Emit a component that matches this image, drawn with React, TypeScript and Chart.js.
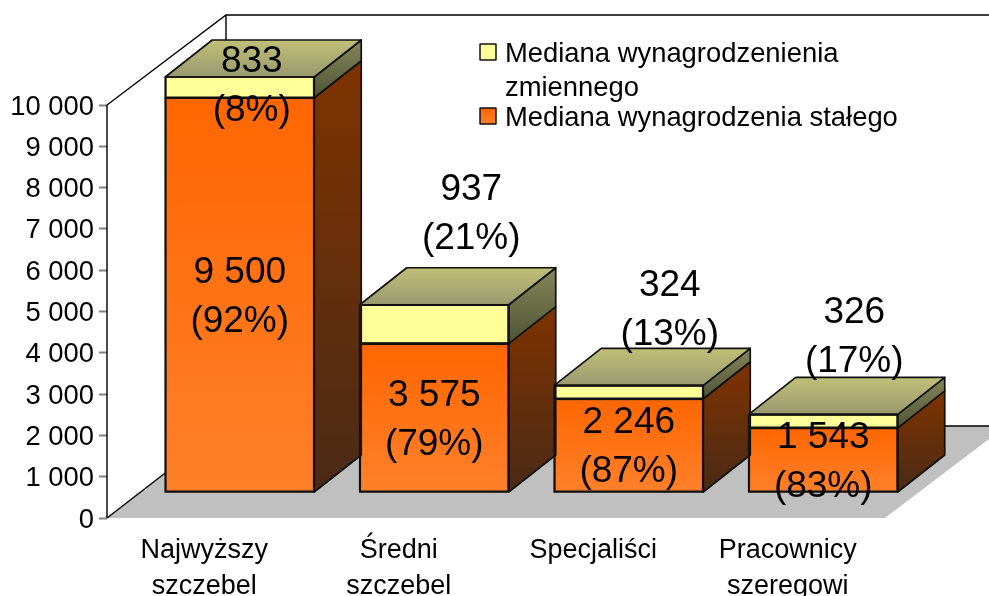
import React, { useEffect, useRef } from "react";
import { Chart, registerables } from "chart.js";

Chart.register(...registerables);

const categories = [["Najwyższy", "szczebel"], ["Średni", "szczebel"], ["Specjaliści"], ["Pracownicy", "szeregowi"]];
const positions = [0, 1, 2, 3];
const fixedValues = [9500, 3575, 2246, 1543];
const variableValues = [833, 937, 324, 326];
const fixedShares = ["(92%)", "(79%)", "(87%)", "(83%)"];
const variableShares = ["(8%)", "(21%)", "(13%)", "(17%)"];
const yTicks = [0, 1000, 2000, 3000, 4000, 5000, 6000, 7000, 8000, 9000, 10000];
const variableLegend = ["Mediana wynagrodzenienia", "zmiennego"];
const fixedLegend = ["Mediana wynagrodzenia stałego"];

const FONT = '"Liberation Sans", Arial, sans-serif';
const DEPTH_X = 47;
const DEPTH_Y = 37;
const LINE = "#111111";
const LABEL_OFFSETS = [[12, -3], [37, -112], [41, -84], [31, -86]];
const BAR_CLIP = { left: false, right: false, bottom: false, top: 0 };

const fmt = (v: number) => String(v).replace(/\B(?=(\d{3})+$)/g, " ");

function vGrad(ctx: CanvasRenderingContext2D, y0: number, y1: number, c0: string, c1: string) {
  const g = ctx.createLinearGradient(0, y0, 0, y1);
  g.addColorStop(0, c0);
  g.addColorStop(1, c1);
  return g;
}

function poly(ctx: CanvasRenderingContext2D, pts: number[][], fill: any) {
  ctx.beginPath();
  pts.forEach((p, i) => (i ? ctx.lineTo(p[0], p[1]) : ctx.moveTo(p[0], p[1])));
  ctx.closePath();
  ctx.fillStyle = fill;
  ctx.fill();
  ctx.strokeStyle = LINE;
  ctx.lineWidth = 1.7;
  ctx.lineJoin = "round";
  ctx.stroke();
}

const scenePlugin = {
  id: "scene",
  beforeDatasetsDraw(chart: any) {
    const { ctx, chartArea, scales, width } = chart;
    const ax = chartArea.left;
    const y0 = scales.y.getPixelForValue(0);
    const yMax = scales.y.getPixelForValue(10000);
    const dx = 119;
    const dy = 92;
    const right = chartArea.right;
    const wallTop = yMax - 90;
    ctx.save();
    ctx.beginPath();
    ctx.moveTo(ax, y0);
    ctx.lineTo(right, y0);
    ctx.lineTo(width, y0 - ((width - right) * 79) / 104);
    ctx.lineTo(width, y0 - dy);
    ctx.lineTo(ax + dx, y0 - dy);
    ctx.closePath();
    ctx.fillStyle = "#C0C0C0";
    ctx.fill();
    ctx.strokeStyle = "#000";
    ctx.lineWidth = 1.4;
    ctx.beginPath();
    ctx.moveTo(ax, y0);
    ctx.lineTo(ax, yMax);
    ctx.lineTo(ax + dx, wallTop);
    ctx.lineTo(width, wallTop);
    ctx.moveTo(ax + dx, wallTop);
    ctx.lineTo(ax + dx, y0 - dy);
    ctx.lineTo(width, y0 - dy);
    ctx.moveTo(ax, y0);
    ctx.lineTo(ax + dx, y0 - dy);
    ctx.stroke();
    ctx.restore();
  },
  afterDatasetsDraw(chart: any) {
    const { ctx, chartArea } = chart;
    const fixedMeta = chart.getDatasetMeta(1).data;
    const varMeta = chart.getDatasetMeta(0).data;
    ctx.save();
    positions.forEach((_, i) => {
      const f = fixedMeta[i];
      const v = varMeta[i];
      const l = f.x - f.width / 2;
      const r = f.x + f.width / 2;
      const base = f.base;
      const mid = f.y;
      const top = Math.max(v.y, chartArea.top);
      poly(
        ctx,
        [[r, mid], [r + DEPTH_X, mid - DEPTH_Y], [r + DEPTH_X, base - DEPTH_Y], [r, base]],
        vGrad(ctx, mid - DEPTH_Y, base, "#7F3300", "#4A2A16"),
      );
      poly(
        ctx,
        [[r, top], [r + DEPTH_X, top - DEPTH_Y], [r + DEPTH_X, mid - DEPTH_Y], [r, mid]],
        vGrad(ctx, top - DEPTH_Y, mid, "#85855A", "#4F5535"),
      );
      poly(
        ctx,
        [[l, top], [l + DEPTH_X, top - DEPTH_Y], [r + DEPTH_X, top - DEPTH_Y], [r, top]],
        vGrad(ctx, top - DEPTH_Y, top, "#C0C077", "#999970"),
      );
      ctx.strokeStyle = LINE;
      ctx.lineWidth = 1.7;
      ctx.strokeRect(l, top, r - l, mid - top);
      ctx.strokeRect(l, mid, r - l, base - mid);
    });

    ctx.fillStyle = "#000";
    ctx.textAlign = "center";
    ctx.textBaseline = "middle";
    ctx.font = `37px ${FONT}`;
    const gap = 24.5;
    positions.forEach((_, i) => {
      const f = fixedMeta[i];
      const v = varMeta[i];
      const fy = (f.y + f.base) / 2 + 2;
      ctx.fillText(fmt(fixedValues[i]), f.x, fy - gap);
      ctx.fillText(fixedShares[i], f.x, fy + gap);
      const top = Math.max(v.y, chartArea.top);
      const vy = (top + f.y) / 2 + LABEL_OFFSETS[i][1] + 2;
      const vx = f.x + LABEL_OFFSETS[i][0];
      ctx.fillText(fmt(variableValues[i]), vx, vy - gap);
      ctx.fillText(variableShares[i], vx, vy + gap);
    });

    const swatch = (y: number, fill: any) => {
      ctx.fillStyle = fill;
      ctx.fillRect(480, y, 16, 16);
      ctx.strokeStyle = LINE;
      ctx.lineWidth = 1.5;
      ctx.strokeRect(480, y, 16, 16);
    };
    swatch(44, "#FFFF99");
    swatch(108, vGrad(ctx, 108, 124, "#FF6600", "#FF802A"));
    ctx.fillStyle = "#000";
    ctx.textAlign = "left";
    ctx.font = `27.4px ${FONT}`;
    variableLegend.forEach((t, i) => ctx.fillText(t, 505, 54 + i * 34));
    fixedLegend.forEach((t) => ctx.fillText(t, 505, 118));
    ctx.restore();
  },
};

export default function App() {
  const ref = useRef<HTMLCanvasElement | null>(null);
  useEffect(() => {
    document.body.style.margin = "0";
    const chart = new Chart(ref.current as HTMLCanvasElement, {
      type: "bar",
      data: {
        labels: categories as any,
        datasets: [
          {
            label: variableLegend.join(" "),
            data: positions.map((x, i) => ({ x, y: variableValues[i] })),
            xAxisID: "x2",
            yAxisID: "y2",
            order: 2,
            stack: "s",
            clip: BAR_CLIP,
            backgroundColor: "#FFFF99",
            borderColor: LINE,
            borderWidth: 1.7,
            borderSkipped: false,
            barThickness: 149,
          },
          {
            label: fixedLegend[0],
            data: positions.map((x, i) => ({ x, y: fixedValues[i] })),
            xAxisID: "x2",
            yAxisID: "y2",
            order: 1,
            stack: "s",
            clip: BAR_CLIP,
            backgroundColor: (c: any) => {
              const { ctx, scales } = c.chart;
              const v = fixedValues[c.dataIndex] ?? 0;
              const p0 = scales.y2 ? scales.y2.getPixelForValue(v) : NaN;
              const p1 = scales.y2 ? scales.y2.getPixelForValue(0) : NaN;
              if (!Number.isFinite(p0) || !Number.isFinite(p1)) return "#FF6600";
              return vGrad(ctx, p0, p1, "#FF6600", "#FF802A");
            },
            borderColor: LINE,
            borderWidth: 1.7,
            borderSkipped: false,
            barThickness: 149,
          },
        ] as any,
      },
      options: {
        responsive: false,
        animation: false,
        layout: { padding: { left: 0, top: 77, right: 104, bottom: 0 } },
        plugins: { legend: { display: false }, tooltip: { enabled: false }, title: { display: false } },
        scales: {
          x: {
            type: "category",
            offset: true,
            grid: { display: false },
            border: { display: false },
            afterFit: (s: any) => { s.height = 78; },
            ticks: {
              color: "#000",
              font: { family: FONT, size: 27, lineHeight: 1.33 },
              maxRotation: 0,
              minRotation: 0,
              autoSkip: false,
              padding: 7,
            },
          },
          y: {
            type: "linear",
            min: 0,
            max: 10678,
            grid: { drawOnChartArea: false, drawTicks: true, tickLength: 8, tickColor: "#808080", tickWidth: 2 },
            border: { display: false },
            afterFit: (s: any) => { s.width = 107; },
            afterBuildTicks: (s: any) => { s.ticks = yTicks.map((value) => ({ value })); },
            ticks: {
              color: "#000",
              padding: 5,
              labelOffset: 2,
              font: { family: FONT, size: 27.4 },
              callback: (v: any) => fmt(v),
            },
          },
          x2: { type: "linear", axis: "x", display: false, min: -0.6825, max: 3.3175, stacked: true, offset: false } as any,
          y2: { type: "linear", axis: "y", display: false, min: -627, max: 10000, stacked: true } as any,
        },
      } as any,
      plugins: [scenePlugin as any],
    });
    return () => chart.destroy();
  }, []);
  return (
    <canvas
      ref={ref}
      width={989}
      height={596}
      style={{ display: "block", position: "absolute", left: 0, top: 0, width: 989, height: 596 }}
    />
  );
}
